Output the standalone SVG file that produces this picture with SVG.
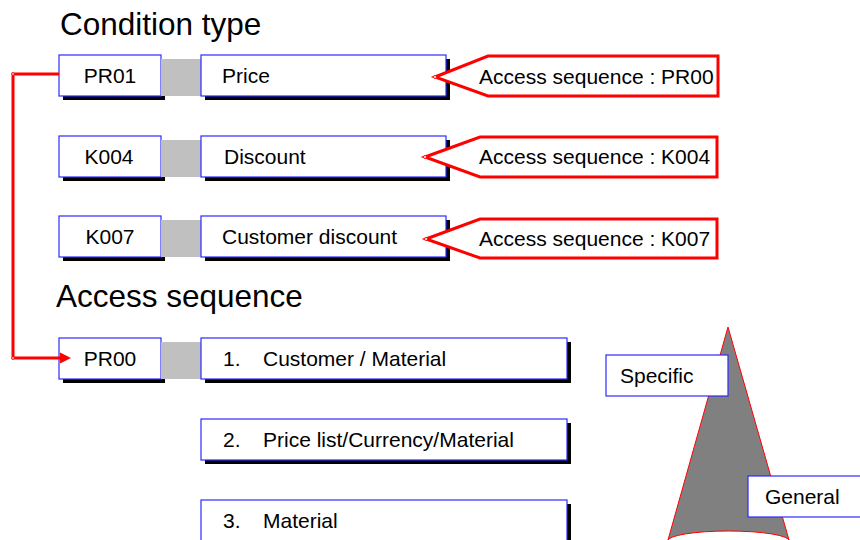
<svg xmlns="http://www.w3.org/2000/svg" width="860" height="540" viewBox="0 0 860 540">
<defs>
<style>
text{font-family:"Liberation Sans",Arial,sans-serif;fill:#000}
.t{font-size:21px}
.h{font-size:31.5px}
.box{fill:#fff;stroke:#2a2aff;stroke-width:1.2}
.sh{fill:#000}
.gap{fill:#c0c0c0}
.call{fill:#fff;stroke:#ff0000;stroke-width:3;stroke-linejoin:miter}
.link{fill:none;stroke:#ff0000;stroke-width:3}
.dot{fill:#fff;stroke:#ff0000;stroke-width:0.8}
</style>
<marker id="arr" viewBox="0 0 10 10" refX="10" refY="5" markerWidth="10" markerHeight="11" orient="auto" markerUnits="userSpaceOnUse">
<path d="M0,0 L10,5 L0,10 z" fill="#ff0000"/>
</marker>
</defs>
<rect width="860" height="540" fill="#fff"/>

<text class="h" x="60" y="35">Condition type</text>
<text class="h" x="56" y="307">Access sequence</text>

<!-- Cone -->
<g id="cone">
<path d="M728,327 L668,540 L789,540 Z" fill="#808080" stroke="#ff0000" stroke-width="1"/>
<ellipse cx="728.5" cy="541" rx="61" ry="10" fill="#fff" stroke="#ff0000" stroke-width="1"/>
</g>

<!-- Condition type rows -->
<g id="pr01">
<rect class="sh" x="63" y="59" width="102" height="41"/>
<rect class="box" x="59" y="55" width="102" height="41"/>
<text class="t" x="110" y="83" text-anchor="middle">PR01</text>
</g>
<rect class="gap" x="161" y="59" width="40" height="37"/>
<g id="price">
<rect class="sh" x="205" y="59" width="245" height="41"/>
<rect class="box" x="201" y="55" width="245" height="41"/>
<text class="t" x="222" y="83">Price</text>
</g>
<g id="call-pr00">
<path class="call" d="M435,77 L488,56 L718,56 L718,96 L488,96 Z"/>
<text class="t" x="479" y="84">Access sequence : PR00</text>
</g>

<g id="k004">
<rect class="sh" x="63" y="140" width="102" height="41"/>
<rect class="box" x="59" y="136" width="102" height="41"/>
<text class="t" x="109" y="164" text-anchor="middle">K004</text>
</g>
<rect class="gap" x="161" y="140" width="40" height="37"/>
<g id="discount">
<rect class="sh" x="205" y="140" width="245" height="41"/>
<rect class="box" x="201" y="136" width="245" height="41"/>
<text class="t" x="224" y="164">Discount</text>
</g>
<g id="call-k004">
<path class="call" d="M425,157 L480,137 L717,137 L717,177 L480,177 Z"/>
<text class="t" x="479" y="164">Access sequence : K004</text>
</g>

<g id="k007">
<rect class="sh" x="63" y="220" width="102" height="41"/>
<rect class="box" x="59" y="216" width="102" height="41"/>
<text class="t" x="110" y="244" text-anchor="middle">K007</text>
</g>
<rect class="gap" x="161" y="220" width="40" height="37"/>
<g id="custdisc">
<rect class="sh" x="205" y="220" width="245" height="41"/>
<rect class="box" x="201" y="216" width="245" height="41"/>
<text class="t" x="222" y="244">Customer discount</text>
</g>
<g id="call-k007">
<path class="call" d="M426,239 L480,219 L717,219 L717,258 L480,258 Z"/>
<text class="t" x="479" y="246">Access sequence : K007</text>
</g>

<!-- Access sequence rows -->
<g id="pr00">
<rect class="sh" x="63" y="342" width="102" height="41"/>
<rect class="box" x="59" y="338" width="102" height="41"/>
<text class="t" x="110" y="366" text-anchor="middle">PR00</text>
</g>
<rect class="gap" x="161" y="342" width="40" height="37"/>
<g id="step1">
<rect class="sh" x="205" y="342" width="366" height="41"/>
<rect class="box" x="201" y="338" width="366" height="41"/>
<text class="t" x="223" y="366">1.</text>
<text class="t" x="263" y="366">Customer / Material</text>
</g>
<g id="step2">
<rect class="sh" x="205" y="423" width="366" height="41"/>
<rect class="box" x="201" y="419" width="366" height="41"/>
<text class="t" x="223" y="447">2.</text>
<text class="t" x="263" y="447">Price list/Currency/Material</text>
</g>
<g id="step3">
<rect class="sh" x="205" y="504" width="366" height="41"/>
<rect class="box" x="201" y="500" width="366" height="41"/>
<text class="t" x="223" y="528">3.</text>
<text class="t" x="263" y="528">Material</text>
</g>

<g id="specific">
<rect class="box" x="606" y="355" width="122" height="41"/>
<text class="t" x="620" y="383">Specific</text>
</g>
<g id="general">
<rect class="box" x="748" y="476" width="120" height="41"/>
<text class="t" x="765" y="504">General</text>
</g>

<!-- Connectors -->
<g id="connectors">
<path class="link" d="M59,74 L13,74 L13,358 L62,358"/>
<path d="M60,352.5 L71,358 L60,363.5 Z" fill="#ff0000"/>
<circle class="dot" cx="13" cy="74" r="1.3"/>
<circle class="dot" cx="13" cy="358" r="1.3"/>
<circle class="dot" cx="435" cy="77" r="1.5"/>
<circle class="dot" cx="425" cy="157" r="1.5"/>
<circle class="dot" cx="426" cy="239" r="1.5"/>
</g>
</svg>
